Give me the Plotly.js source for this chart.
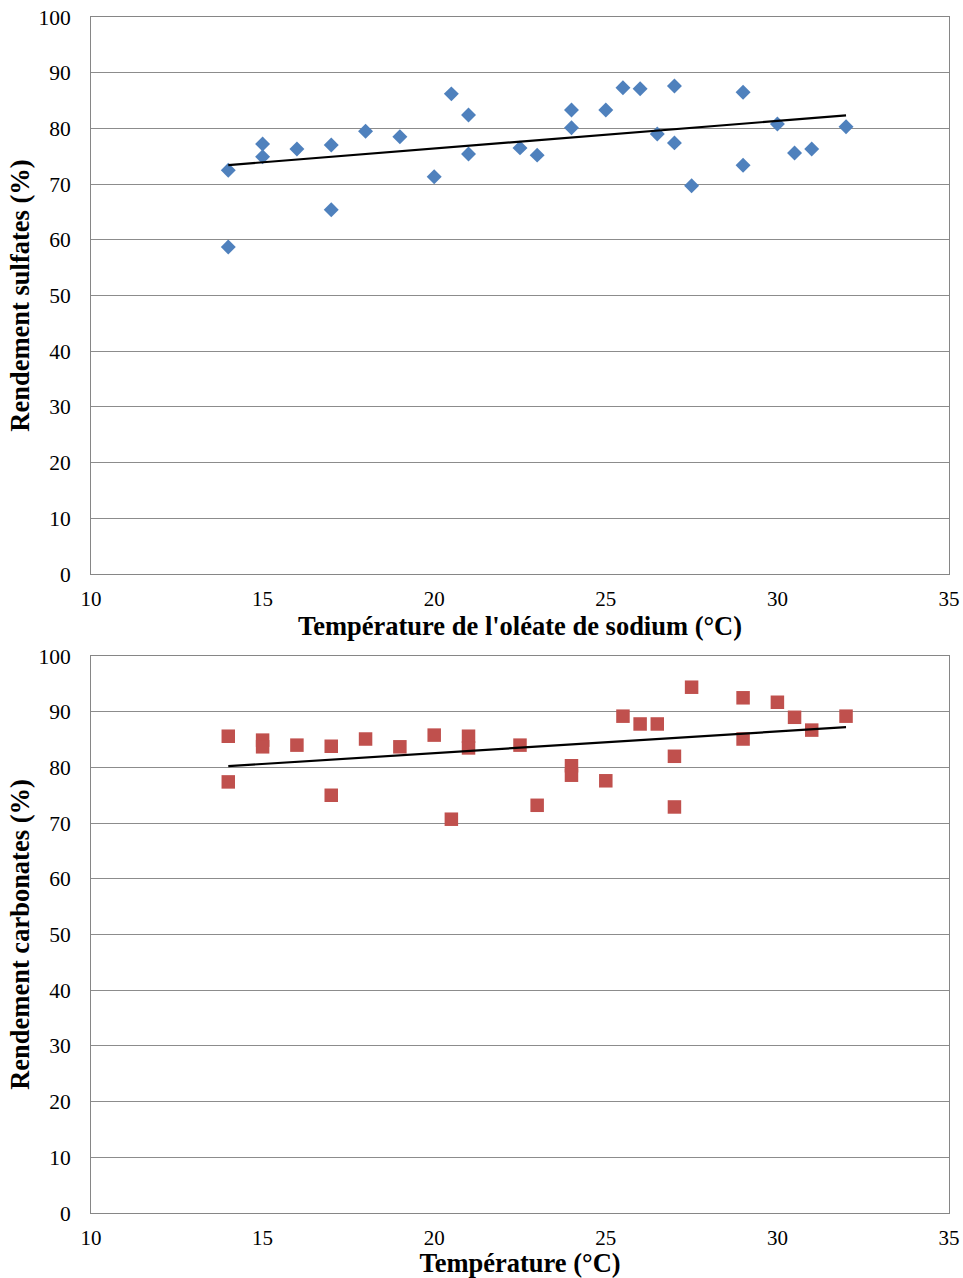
<!DOCTYPE html>
<html>
<head>
<meta charset="utf-8">
<script src="https://cdn.plot.ly/plotly-3.0.1.min.js"></script>
<style>html,body{margin:0;padding:0;background:#fff;}#chart{width:963px;height:1278px;}</style>
</head>
<body>
<div id="chart"></div>
<script>
// Top chart: sulfates yield vs sodium oleate temperature
const tempSulfates = [14,14,15,15,16,17,17,18,19,20,20.5,21,21,22.5,23,24,24,25,25.5,26,26.5,27,27,27.5,29,29,30,30.5,31,32];
const rendSulfates = [72.5,58.7,77.2,74.9,76.3,77.0,65.4,79.5,78.5,71.3,86.2,82.4,75.4,76.5,75.2,83.3,80.1,83.3,87.3,87.1,79.0,87.6,77.4,69.7,86.5,73.4,80.8,75.6,76.3,80.3];
// Bottom chart: carbonates yield vs temperature
const tempCarbonates = [14,14,15,15,16,17,17,18,19,20,20.5,21,21,22.5,23,24,24,25,25.5,26,26.5,27,27,27.5,29,29,30,30.5,31,32];
const rendCarbonates = [85.6,77.4,84.9,83.7,84.0,83.8,75.0,85.1,83.7,85.8,70.7,85.6,83.5,84.0,73.2,80.3,78.6,77.6,89.2,87.8,87.8,82.0,72.9,94.4,92.5,85.1,91.7,89.0,86.7,89.2];
const xTicks = [10,15,20,25,30,35];
const yTicks = [0,10,20,30,40,50,60,70,80,90,100];
const xTitleTop = "Température de l'oléate de sodium (°C)";
const xTitleBottom = "Température (°C)";
const yTitleTop = "Rendement sulfates (%)";
const yTitleBottom = "Rendement carbonates (%)";

function linfit(xs, ys){
  const n = xs.length;
  let sx=0, sy=0, sxx=0, sxy=0;
  for(let i=0;i<n;i++){sx+=xs[i];sy+=ys[i];sxx+=xs[i]*xs[i];sxy+=xs[i]*ys[i];}
  const b=(n*sxy-sx*sy)/(n*sxx-sx*sx);
  const a=(sy-b*sx)/n;
  const x0=Math.min(...xs), x1=Math.max(...xs);
  return {x:[x0,x1], y:[a+b*x0, a+b*x1]};
}
const fitTop = linfit(tempSulfates, rendSulfates);
const fitBot = linfit(tempCarbonates, rendCarbonates);

const font = "Liberation Serif";
const traces = [
  {x: tempSulfates, y: rendSulfates, mode:'markers', type:'scatter', xaxis:'x', yaxis:'y',
   marker:{symbol:'diamond', size:11.5, color:'#4F81BD'}, hoverinfo:'skip'},
  {x: fitTop.x, y: fitTop.y, mode:'lines', type:'scatter', xaxis:'x', yaxis:'y',
   line:{color:'#000', width:2.2}, hoverinfo:'skip'},
  {x: tempCarbonates, y: rendCarbonates, mode:'markers', type:'scatter', xaxis:'x2', yaxis:'y2',
   marker:{symbol:'square', size:13.5, color:'#C0504D'}, hoverinfo:'skip'},
  {x: fitBot.x, y: fitBot.y, mode:'lines', type:'scatter', xaxis:'x2', yaxis:'y2',
   line:{color:'#000', width:2.2}, hoverinfo:'skip'}
];

function xax(anchor, title){
  return {anchor:anchor, range:[10,35], tickmode:'array', tickvals:xTicks, ticks:'', showgrid:false,
    zeroline:false, showline:true, linecolor:'#868686', linewidth:1, mirror:true,
    tickfont:{family:font, size:21, color:'#000', weight:'normal'}, ticklabelstandoff:6,
    title:{text:title, font:{family:font, size:26.5, color:'#000', weight:'bold'}, standoff:3}};
}
function yax(anchor, domain, title){
  return {anchor:anchor, domain:domain, range:[0,100], tickmode:'array', tickvals:yTicks, ticks:'',
    showgrid:true, gridcolor:'#8c8c8c', gridwidth:1, zeroline:false, showline:true, linecolor:'#868686', linewidth:1, mirror:true,
    tickfont:{family:font, size:21.5, color:'#000', weight:'normal'}, ticklabelstandoff:15,
    title:{text:title, font:{family:font, size:26.5, color:'#000', weight:'bold'}, standoff:1}};
}

const layout = {
  width:963, height:1278, showlegend:false,
  font:{family:font, size:21, color:'#000'},
  paper_bgcolor:'#fff', plot_bgcolor:'#fff',
  margin:{l:91, r:14, t:17, b:65},
  xaxis: xax('y', xTitleTop),
  yaxis: yax('x', [0.5343,1], yTitleTop),
  xaxis2: xax('y2', xTitleBottom),
  yaxis2: yax('x2', [0,0.4657], yTitleBottom)
};
Plotly.newPlot('chart', traces, layout, {staticPlot:true, displayModeBar:false});
</script>
</body>
</html>
